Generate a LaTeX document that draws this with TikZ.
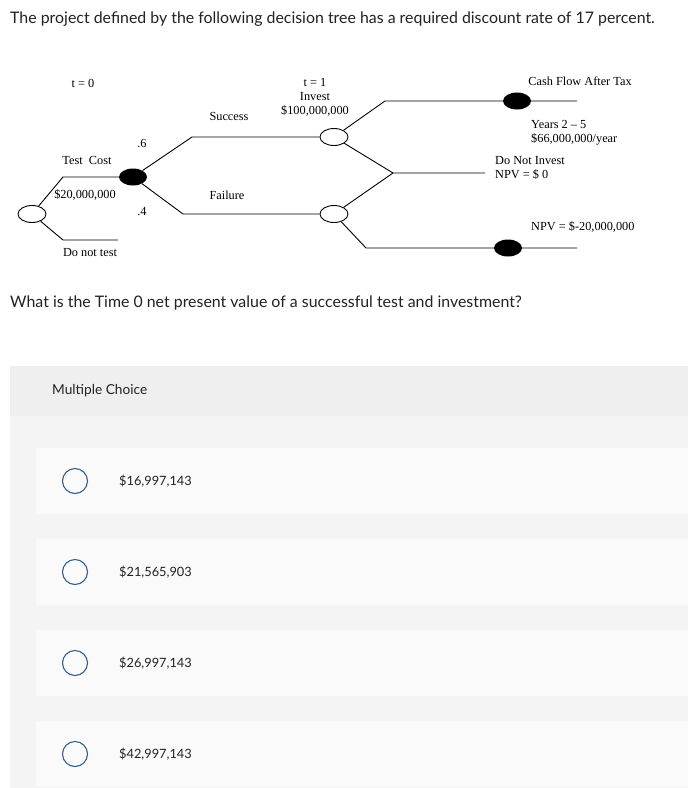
\documentclass[tikz,border=0pt]{standalone}
\usepackage{fontspec}
\setmainfont{Liberation Serif}
\newfontfamily\uifont{Lato}
\usetikzlibrary{shapes.geometric}

\definecolor{panelbg}{RGB}{244,244,244}
\definecolor{headbg}{RGB}{239,239,239}
\definecolor{cardbg}{RGB}{250,250,250}
\definecolor{radioblue}{RGB}{52,94,138}
\definecolor{uitext}{RGB}{34,34,34}

\tikzset{
  tree/.style={line width=0.9pt},
  opennode/.style={ellipse, draw, line width=0.9pt, fill=white, minimum width=28pt, minimum height=17pt, inner sep=0pt},
  fullnode/.style={ellipse, fill=black, minimum width=28pt, minimum height=17pt, inner sep=0pt},
  treetext/.style={font=\fontsize{12.3}{14}\selectfont, inner sep=0pt},
  uitxt/.style={font=\uifont\fontsize{15.9}{19}\selectfont, text=uitext, inner sep=0pt, anchor=west},
  radio/.style={circle, draw=radioblue, line width=1.1pt, minimum size=25pt, inner sep=0pt}
}

\begin{document}
\begin{tikzpicture}[x=1pt, y=-1pt]
  \useasboundingbox[fill=white] (0, 0) rectangle (688, 788);

  \node[uitxt] (title) at (10, 19) {The project defined by the following decision tree has a required discount rate of 17 percent.};

  % 決定木
  \node[opennode] (root) at (32, 214) {};
  \coordinate (testA) at (63, 177);
  \coordinate (notA) at (63, 240);
  \coordinate (notB) at (118, 240);
  \node[fullnode] (chance) at (133, 177) {};
  \coordinate (succA) at (192, 137);
  \coordinate (failA) at (183, 214);
  \node[opennode] (succ) at (334, 137) {};
  \node[opennode] (fail) at (334, 214) {};
  \coordinate (invA) at (385, 101);
  \coordinate (invB) at (577, 101);
  \coordinate (noA) at (393, 173);
  \coordinate (noB) at (485, 173);
  \coordinate (lossA) at (366, 248);
  \coordinate (lossB) at (577, 248);

  \draw[tree] (root) -- (testA) -- (chance);
  \draw[tree] (root) -- (notA) -- (notB);
  \draw[tree] (chance) -- (succA) -- (succ);
  \draw[tree] (chance) -- (failA) -- (fail);
  \draw[tree] (succ) -- (invA) -- (invB);
  \draw[tree] (succ) -- (noA) -- (noB);
  \draw[tree] (fail) -- (noA);
  \draw[tree] (fail) -- (lossA) -- (lossB);
  \node[fullnode] (cash) at (517, 101) {};
  \node[fullnode] (loss) at (508, 248) {};

  \node[treetext] (tzero) at (83, 83) {t = 0};
  \node[treetext, align=center, anchor=north] (tone) at (315, 78) {t = 1\\Invest\\\$100,000,000};
  \node[treetext] (lsucc) at (229, 116) {Success};
  \node[treetext] (lfail) at (227, 195) {Failure};
  \node[treetext] (psucc) at (142, 144) {.6};
  \node[treetext] (pfail) at (142, 212) {.4};
  \node[treetext] (ltest) at (87, 160) {Test\ \ Cost};
  \node[treetext] (lcost) at (85, 195) {\$20,000,000};
  \node[treetext] (lnot) at (90, 253) {Do not test};
  \node[treetext] (lcash) at (580, 81) {Cash Flow After Tax};
  \node[treetext, anchor=west, align=left] (lyears) at (531, 133) {Years 2 -- 5\\\$66,000,000/year};
  \node[treetext, anchor=west, align=left] (lnoinv) at (495, 168) {Do Not Invest\\NPV = \$ 0};
  \node[treetext, anchor=west] (lloss) at (531, 227) {NPV = \$-20,000,000};

  \node[uitxt] (question) at (10, 303) {What is the Time 0 net present value of a successful test and investment?};

  % 選択肢
  \fill[panelbg] (10, 366) rectangle (688, 788);
  \fill[headbg] (10, 366) rectangle (688, 416);
  \node[uitxt, font=\uifont\fontsize{13.7}{16}\selectfont] (mc) at (52, 391) {Multiple Choice};

  \foreach \y/\v in {481/{\$16,997,143}, 572/{\$21,565,903}, 663/{\$26,997,143}, 754/{\$42,997,143}} {
    \fill[cardbg, rounded corners=2pt] (36, \y-33) rectangle (700, \y+33);
    \node[radio] (r\y) at (75, \y) {};
    \node[uitxt, font=\uifont\fontsize{12.8}{16}\selectfont] (a\y) at (119, \y) {\v};
  }
\end{tikzpicture}
\end{document}
